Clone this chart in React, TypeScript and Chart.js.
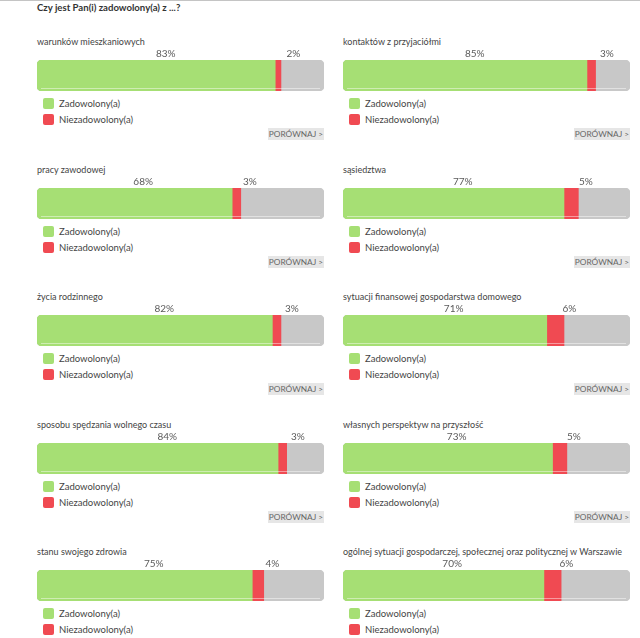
import React, { useEffect, useRef } from "react";
import { Chart, registerables } from "chart.js";

Chart.register(...registerables);

const questionTitle = "Czy jest Pan(i) zadowolony(a) z ...?";
const categories = [
  "warunków mieszkaniowych",
  "kontaktów z przyjaciółmi",
  "pracy zawodowej",
  "sąsiedztwa",
  "życia rodzinnego",
  "sytuacji finansowej gospodarstwa domowego",
  "sposobu spędzania wolnego czasu",
  "własnych perspektyw na przyszłość",
  "stanu swojego zdrowia",
  "ogólnej sytuacji gospodarczej, społecznej oraz politycznej w Warszawie",
];
const satisfied = [83, 85, 68, 77, 82, 71, 84, 73, 75, 70];
const dissatisfied = [2, 3, 3, 5, 3, 6, 3, 5, 4, 6];
const totals = [100, 100, 100, 100, 100, 100, 100, 100, 100, 100];
const seriesNames = ["Zadowolony(a)", "Niezadowolony(a)"];
const compareLabel = "PORÓWNAJ >";

const GREEN = "#a6df74";
const RED = "#f04a52";
const GRAY = "#c8c8c8";
const FONT = "Lato, 'Open Sans', sans-serif";

const labelPlugin = {
  id: "pctLabels",
  afterDatasetsDraw(chart: any) {
    const { ctx, chartArea } = chart;
    ctx.save();
    ctx.font = "10px Lato";
    ctx.fillStyle = "#5a5a5a";
    ctx.textAlign = "center";
    ctx.textBaseline = "alphabetic";
    [0, 1].forEach((di) => {
      const meta = chart.getDatasetMeta(di);
      meta.data.forEach((el: any, i: number) => {
        const p = el.getProps(["x", "base", "y", "height"], true);
        const c = (p.x + p.base) / 2;
        const lx = chartArea.left + (c - chartArea.left) * 1.047 + 4;
        ctx.fillText(chart.data.datasets[di].data[i] + "%", lx, p.y - p.height / 2 - 3);
      });
    });
    const track = chart.getDatasetMeta(2).data[0] as any;
    if (track) {
      const p = track.getProps(["x", "base", "y", "height"], true);
      const yb = p.y + p.height / 2 - 2.5;
      ctx.strokeStyle = "rgba(255,255,255,0.45)";
      ctx.lineWidth = 1;
      ctx.beginPath();
      ctx.moveTo(p.base + 4, yb);
      ctx.lineTo(p.x - 4, yb);
      ctx.stroke();
    }
    ctx.restore();
  },
};

function Panel({ idx, left, barTop }: { idx: number; left: number; barTop: number }) {
  const ref = useRef<HTMLCanvasElement | null>(null);
  useEffect(() => {
    if (!ref.current) return;
    const chart = new Chart(ref.current, {
      type: "bar",
      data: {
        labels: [categories[idx]],
        datasets: [
          {
            label: seriesNames[0],
            data: [satisfied[idx]],
            backgroundColor: GREEN,
            stack: "a",
            order: 0,
            borderSkipped: false,
            borderRadius: { topLeft: 5, bottomLeft: 5, topRight: 0, bottomRight: 0 },
            barPercentage: 1,
            categoryPercentage: 1,
          },
          {
            label: seriesNames[1],
            data: [dissatisfied[idx]],
            backgroundColor: RED,
            stack: "a",
            order: 0,
            borderSkipped: false,
            borderRadius: 0,
            barPercentage: 1,
            categoryPercentage: 1,
          },
          {
            label: "total",
            data: [totals[idx]],
            backgroundColor: GRAY,
            stack: "b",
            grouped: false,
            order: 1,
            borderSkipped: false,
            borderRadius: 5,
            barPercentage: 1,
            categoryPercentage: 1,
          },
        ],
      } as any,
      options: {
        indexAxis: "y",
        animation: false,
        responsive: false,
        maintainAspectRatio: false,
        devicePixelRatio: 1,
        events: [],
        layout: { padding: { top: 14, bottom: 2, left: 0, right: 13 } },
        plugins: { legend: { display: false }, tooltip: { enabled: false } },
        scales: {
          x: { stacked: true, min: 0, max: 100, display: false },
          y: { stacked: true, display: false },
        },
      } as any,
      plugins: [labelPlugin],
    });
    return () => chart.destroy();
  }, [idx]);

  const legendItem = (color: string, text: string, top: number) => (
    <div
      style={{
        position: "absolute",
        left: left + 6,
        top,
        height: 11,
        display: "flex",
        alignItems: "center",
      }}
    >
      <div style={{ width: 11, height: 11, borderRadius: 2, background: color }} />
      <span style={{ marginLeft: 5, fontSize: 9.5, color: "#444", fontFamily: FONT, lineHeight: "11px" }}>{text}</span>
    </div>
  );

  return (
    <>
      <div
        style={{
          position: "absolute",
          left,
          top: barTop - 24,
          fontSize: 9,
          color: "#444",
          fontFamily: FONT,
          whiteSpace: "nowrap",
          lineHeight: "12px",
        }}
      >
        {categories[idx]}
      </div>
      <canvas
        ref={ref}
        width={300}
        height={47}
        style={{ position: "absolute", left, top: barTop - 14, width: 300, height: 47 }}
      />
      {legendItem(GREEN, seriesNames[0], barTop + 38)}
      {legendItem(RED, seriesNames[1], barTop + 54)}
      <div
        style={{
          position: "absolute",
          left: left + 231,
          top: barTop + 68,
          width: 56,
          height: 12,
          background: "#e6e6e6",
          color: "#666",
          fontFamily: FONT,
          fontSize: 8.3,
          lineHeight: "12px",
          textAlign: "center",
          whiteSpace: "nowrap",
        }}
      >
        {compareLabel}
      </div>
    </>
  );
}

export default function App() {
  useEffect(() => {
    document.body.style.margin = "0";
  }, []);
  return (
    <div
      style={{
        position: "relative",
        width: 640,
        height: 638,
        overflow: "hidden",
        background: "#fff",
        fontFamily: FONT,
      }}
    >
      <div style={{ position: "absolute", left: 0, top: 0, width: 640, height: 1, background: "#c4c4c4" }} />
      <div
        style={{
          position: "absolute",
          left: 37,
          top: 2,
          fontSize: 9.6,
          fontWeight: 700,
          color: "#333",
          lineHeight: "12px",
          whiteSpace: "nowrap",
        }}
      >
        {questionTitle}
      </div>
      {categories.map((_, i) => {
        const col = i % 2;
        const row = Math.floor(i / 2);
        const left = col === 0 ? 37 : 343;
        const barTop = 60 + row * 127.5;
        return <Panel key={i} idx={i} left={left} barTop={barTop} />;
      })}
    </div>
  );
}
